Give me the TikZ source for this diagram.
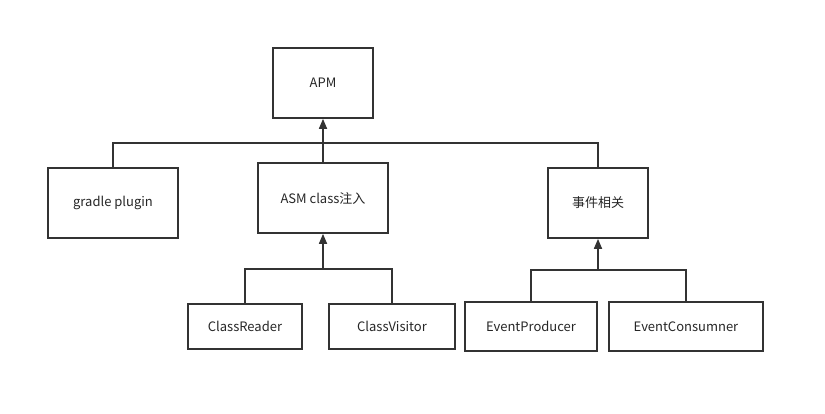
\documentclass[tikz,border=0pt]{standalone}
\usepackage{fontspec}
\setmainfont{Noto Sans CJK SC}
\usetikzlibrary{arrows.meta}

\begin{document}
\begin{tikzpicture}[x=1pt,y=-1pt,
    box/.style={draw=black!80,line width=1.7pt,inner sep=0pt,
                font=\fontsize{13}{15}\selectfont,text=black!85},
    link/.style={draw=black!80,line width=1.7pt},
    up/.style={link,-{Triangle[length=10pt,width=8pt]}}]
    \useasboundingbox (0,0) rectangle (825,413);

    \node[box,minimum width=100pt,minimum height=70pt] (apm) at (323,83) {APM};
    \node[box,minimum width=130pt,minimum height=70pt] (gradle) at (113,203) {gradle plugin};
    \node[box,minimum width=130pt,minimum height=70pt] (asm) at (323,198) {ASM class注入};
    \node[box,minimum width=100pt,minimum height=70pt] (event) at (598,203) {事件相关};

    \node[box,minimum width=114pt,minimum height=45pt] (reader) at (245,326.5) {ClassReader};
    \node[box,minimum width=126pt,minimum height=45pt] (visitor) at (392,326.5) {ClassVisitor};
    \node[box,minimum width=132pt,minimum height=49pt] (producer) at (531,326.5) {EventProducer};
    \node[box,minimum width=154pt,minimum height=49pt] (consumer) at (686,326.5) {EventConsumner};

    \coordinate (topbus) at (323,143);
    \coordinate (asmbus) at (323,269);
    \coordinate (eventbus) at (598,270);

    \draw[link] (gradle.north) |- (topbus) -| (event.north);
    \draw[up] (asm.north) -- (apm.south);

    \draw[link] (reader.north) |- (asmbus) -| (visitor.north);
    \draw[up] (asmbus) -- (asm.south);

    \draw[link] (producer.north) |- (eventbus) -| (consumer.north);
    \draw[up] (eventbus) -- (event.south);
\end{tikzpicture}
\end{document}
